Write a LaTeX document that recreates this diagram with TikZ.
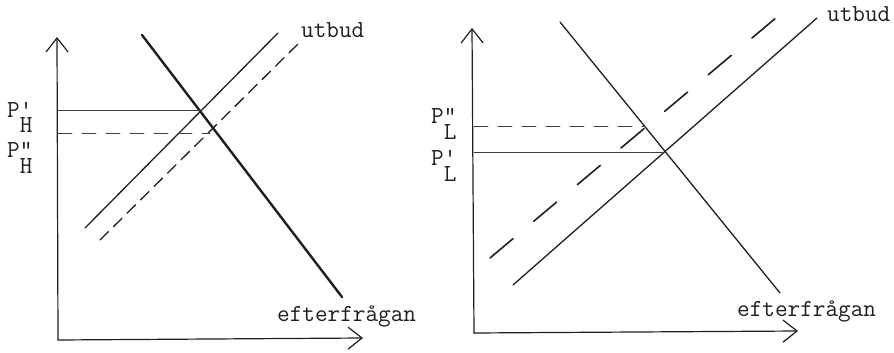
\documentclass[tikz,border=0pt]{standalone}
\usepackage{fontspec}
\usetikzlibrary{arrows.meta}

\tikzset{
  axis/.style={-{Straight Barb[length=14pt,width=22pt]},line width=1.2pt},
  curve/.style={line width=1.3pt},
  thickcurve/.style={line width=2.4pt},
  shortdash/.style={curve,dash pattern=on 12pt off 7pt},
  longdash/.style={curve,line width=1.6pt,dash pattern=on 30pt off 27pt},
  guide/.style={line width=0.9pt,black!75},
  guidedash/.style={guide,dash pattern=on 14pt off 10pt},
  lab/.style={font=\ttfamily\fontsize{24.5}{24.5}\selectfont,inner sep=0pt,anchor=base west},
}
% price label with a typed subscript one half line down
\newcommand{\pricelab}[2]{P#1\llap{\raisebox{-16pt}{#2}}}

\begin{document}
\begin{tikzpicture}[x=1pt,y=-1pt,line cap=round,black!88]
\useasboundingbox (0,0) rectangle (894,353);
% left panel: high price
\coordinate (oH) at (58,340);
\coordinate (yH) at (57,37);
\coordinate (xH) at (363,338);
\draw[axis] (oH) -- (yH);
\draw[axis] (oH) -- (xH);
\coordinate (dH1) at (142,35);
\coordinate (dH2) at (342,297);
\coordinate (sH1) at (85,228);
\coordinate (sH2) at (278,33);
\coordinate (tH1) at (100,240);
\coordinate (tH2) at (302,40);
\draw[thickcurve] (dH1) -- (dH2);
\draw[curve] (sH1) -- (sH2);
\draw[shortdash] (tH1) -- (tH2);
\coordinate (aH1) at (58,110);
\coordinate (eH1) at (200,110);
\coordinate (aH2) at (58,133);
\coordinate (eH2) at (210,133);
\draw[guide] (aH1) -- (eH1);
\draw[guidedash] (aH2) -- (eH2);
\node[lab] (pH1) at (7,117) {\pricelab{\textquotesingle}{H}};
\node[lab] (pH2) at (7,157) {\pricelab{\textquotedbl}{H}};
\node[lab] (utH) at (301,38) {utbud};
\node[lab] (efH) at (277,321) {efterfrågan};
% right panel: low price
\coordinate (oL) at (474,333);
\coordinate (yL) at (472,28);
\coordinate (xL) at (798,331);
\draw[axis] (oL) -- (yL);
\draw[axis] (oL) -- (xL);
\coordinate (dL1) at (560,22);
\coordinate (dL2) at (780,293);
\coordinate (sL1) at (513,285);
\coordinate (sL2) at (817,18);
\coordinate (tL1) at (490,258);
\coordinate (tL2) at (777,17);
\draw[curve] (dL1) -- (dL2);
\draw[curve] (sL1) -- (sL2);
\draw[longdash] (tL1) -- (tL2);
\coordinate (aL1) at (474,152);
\coordinate (eL1) at (665,152);
\coordinate (aL2) at (474,126);
\coordinate (eL2) at (645,126);
\draw[guide] (aL1) -- (eL1);
\draw[guidedash] (aL2) -- (eL2);
\node[lab] (pL2) at (431,123) {\pricelab{\textquotedbl}{L}};
\node[lab] (pL1) at (431,165) {\pricelab{\textquotesingle}{L}};
\node[lab] (utL) at (827,22) {utbud};
\node[lab] (efL) at (737,316) {efterfrågan};
\end{tikzpicture}
\end{document}
